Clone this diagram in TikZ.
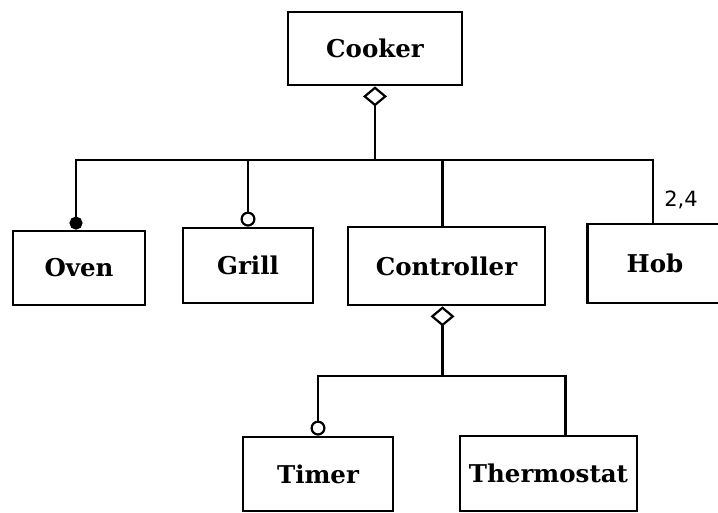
\documentclass[tikz,border=0pt]{standalone}
\usepackage{fontspec}
\setmainfont{DejaVu Serif}
\newfontfamily\multfont{DejaVu Sans}
\usetikzlibrary{positioning,arrows.meta,calc}
\tikzset{
  classbox/.style={draw, line width=2.8pt, fill=white, inner sep=0pt, align=center, font=\fontsize{24.5}{28}\selectfont\bfseries},
  linkline/.style={line width=2.8pt},
  aggline/.style={linkline, {Diamond[open, length=20pt, width=24pt, line width=2.2pt]}-},
  optline/.style={linkline, -{Circle[open, length=15pt, width=15pt, line width=2.2pt]}},
  manyline/.style={linkline, -{Circle[length=13pt, width=13pt]}},
  multlabel/.style={font=\multfont\fontsize{21}{24}\selectfont, inner sep=0pt}
}

\begin{document}
\begin{tikzpicture}[x=1pt, y=-1pt]
  \useasboundingbox (0,0) rectangle (718,513);
  \clip (0,0) rectangle (718,513);

  % classes
  \node[classbox, minimum width=174pt, minimum height=73pt] (cooker) at (375,48.5) {Cooker};
  \node[classbox, minimum width=132pt, minimum height=74pt] (oven) at (79,268) {Oven};
  \node[classbox, minimum width=130pt, minimum height=75pt] (grill) at (248,265.5) {Grill};
  \node[classbox, minimum width=197pt, minimum height=78pt] (controller) at (446.5,266) {Controller};
  \node[classbox, minimum width=135pt, minimum height=79pt] (hob) at (655,263.5) {Hob};
  \node[classbox, minimum width=150pt, minimum height=74pt] (timer) at (318,474) {Timer};
  \node[classbox, minimum width=177pt, minimum height=75pt] (thermostat) at (548.5,473.5) {Thermostat};

  % bus points
  \coordinate (cookerbus) at (cooker.south |- 0,160);
  \coordinate (ctrlbus) at ([xshift=-4pt]controller.south |- 0,376);

  % aggregation of the cooker
  \draw[aggline] (cooker.south) -- (cookerbus);
  \draw[manyline] (cookerbus) -| ([xshift=-3pt]oven.north);
  \draw[optline] (cookerbus) -| (grill.north);
  \draw[linkline] (cookerbus) -| ([xshift=-4pt]controller.north);
  \draw[linkline] (cookerbus) -| ([xshift=-2pt]hob.north);
  \node[multlabel] (hobmult) at (681,200) {2,4};

  % aggregation of the controller
  \draw[aggline] ([xshift=-4pt]controller.south) -- (ctrlbus);
  \draw[optline] (ctrlbus) -| (timer.north);
  \draw[linkline] (ctrlbus) -| ([xshift=17pt]thermostat.north);
\end{tikzpicture}
\end{document}
